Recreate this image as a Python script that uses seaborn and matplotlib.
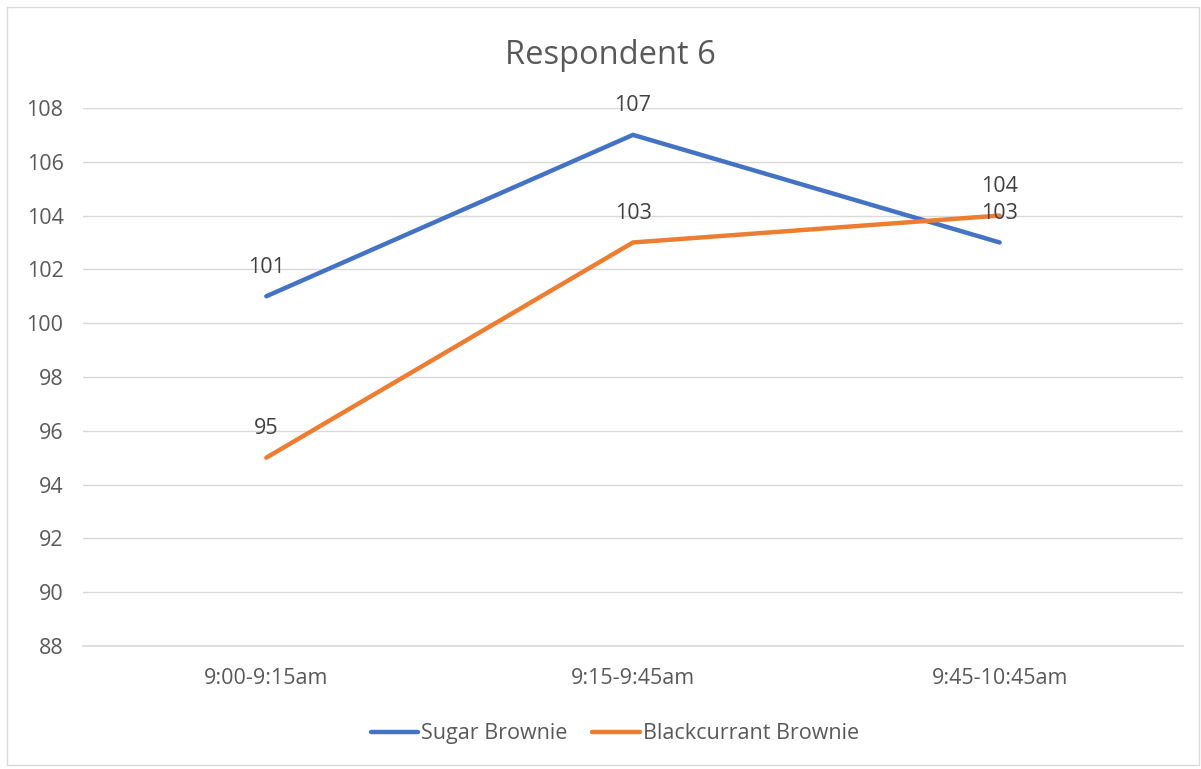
import matplotlib
matplotlib.use("Agg")
import matplotlib.pyplot as plt
import seaborn as sns
import pandas as pd
from matplotlib.patches import Rectangle

categories = ["9:00-9:15am", "9:15-9:45am", "9:45-10:45am"]
sugar = [101, 107, 103]
blackcurrant = [95, 103, 104]
series_names = ["Sugar Brownie", "Blackcurrant Brownie"]
colors = ["#4472C4", "#ED7D31"]
yticks = list(range(88, 110, 2))

rows = []
for name, vals in zip(series_names, [sugar, blackcurrant]):
    for i, (c, v) in enumerate(zip(categories, vals)):
        rows.append({"Time": c, "x": i, "Value": v, "Series": name})
df = pd.DataFrame(rows)

sns.set_theme(style="white")
plt.rcParams["font.family"] = ["Open Sans", "DejaVu Sans"]

FS = 15.5

fig = plt.figure(figsize=(12.01, 7.69), dpi=100)
ax = fig.add_axes([0.0691, 0.160, 0.9159, 0.6996])

sns.lineplot(data=df, x="x", y="Value", hue="Series", palette=colors,
             linewidth=3.2, ax=ax, legend=True, sort=False)

for name, vals, col in zip(series_names, [sugar, blackcurrant], colors):
    for i, v in enumerate(vals):
        ax.annotate(str(v), (i, v), xytext=(0, 21), textcoords="offset points",
                    ha="center", va="center", fontsize=FS, color="#404040")

ax.set_xlim(-0.5, 2.5)
ax.set_ylim(88, 108)
ax.set_yticks(yticks)
ax.set_xticks(range(len(categories)))
ax.set_xticklabels(categories)
ax.tick_params(axis="both", colors="#595959", labelsize=FS, length=0)
ax.tick_params(axis="y", pad=14)
ax.tick_params(axis="x", pad=16)
ax.yaxis.grid(True, color="#D9D9D9", linewidth=1)
ax.xaxis.grid(False)
for s in ["top", "right", "left"]:
    ax.spines[s].set_visible(False)
ax.spines["bottom"].set_color("#D9D9D9")
ax.set_xlabel("")
ax.set_ylabel("")

fig.text(0.508, 0.928, "Respondent 6", ha="center", va="center",
         fontsize=23.5, color="#595959")

handles, labels = ax.get_legend_handles_labels()
ax.legend(handles, labels, loc="center", bbox_to_anchor=(0.512, 0.046),
          bbox_transform=fig.transFigure, ncol=2, frameon=False,
          fontsize=FS, labelcolor="#595959", handlelength=2.2,
          handletextpad=0.15, columnspacing=1.15)

fig.patches.append(Rectangle((0.006, 0.005), 0.992, 0.986, transform=fig.transFigure,
                             fill=False, edgecolor="#D9D9D9", linewidth=1))

fig.savefig("out.png", dpi=100)
